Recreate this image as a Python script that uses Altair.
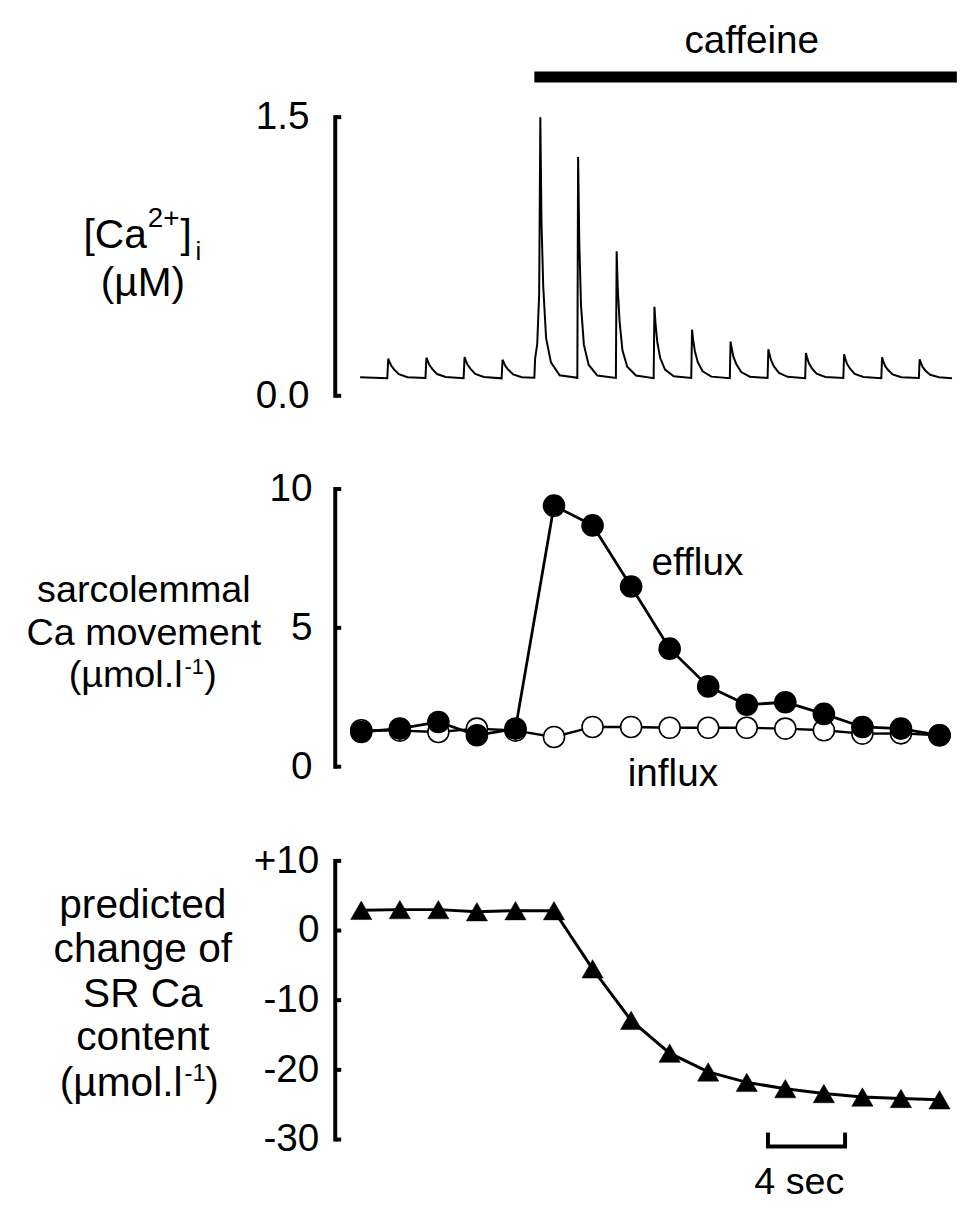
import altair as alt
import pandas as pd

FONT = "Liberation Sans"
FS = 39      # tick labels / annotations
FT = 41      # left titles
FT2 = 38     # middle-panel title (tighter lines)

# ---------------- data ----------------
# [Ca2+]i trace (time in s, value in uM)
trace_t = [
    1.29, 2.70, 2.75, 2.81, 2.90, 3.05, 3.30, 3.75,
    4.68, 4.73, 4.79, 4.88, 5.03, 5.28, 5.73,
    6.66, 6.71, 6.77, 6.86, 7.01, 7.26, 7.71,
    8.63, 8.68, 8.74, 8.83, 8.98, 9.23, 9.68,
    10.33, 10.37, 10.48, 10.58, 10.64, 10.70, 10.79, 10.94, 11.19, 11.64,
    12.56, 12.60, 12.66, 12.75, 12.90, 13.15, 13.60,
    14.56, 14.60, 14.66, 14.75, 14.90, 15.15, 15.60,
    16.52, 16.56, 16.62, 16.71, 16.86, 17.11, 17.56,
    18.47, 18.51, 18.57, 18.66, 18.81, 19.06, 19.51,
    20.47, 20.51, 20.57, 20.66, 20.81, 21.06, 21.51,
    22.43, 22.47, 22.53, 22.62, 22.77, 23.02, 23.47,
    24.38, 24.42, 24.48, 24.57, 24.72, 24.97, 25.42,
    26.36, 26.40, 26.46, 26.55, 26.70, 26.95, 27.40,
    28.33, 28.37, 28.43, 28.52, 28.67, 28.92, 29.37,
    30.28, 30.32, 30.38, 30.47, 30.62, 30.87, 31.32,
    32.0]
trace_ca = [
    0.100, 0.095, 0.200, 0.184, 0.163, 0.142, 0.116, 0.100,
    0.096, 0.205, 0.189, 0.167, 0.145, 0.117, 0.101,
    0.095, 0.208, 0.191, 0.168, 0.146, 0.118, 0.101,
    0.094, 0.194, 0.180, 0.160, 0.140, 0.115, 0.100,
    0.097, 0.200, 0.280, 0.550, 1.500, 0.940, 0.590, 0.310, 0.180, 0.110,
    0.097, 1.286, 0.833, 0.488, 0.274, 0.166, 0.109,
    0.096, 0.778, 0.573, 0.402, 0.245, 0.156, 0.109,
    0.095, 0.479, 0.383, 0.287, 0.203, 0.141, 0.105,
    0.096, 0.356, 0.299, 0.239, 0.181, 0.132, 0.103,
    0.095, 0.292, 0.253, 0.209, 0.170, 0.128, 0.103,
    0.096, 0.251, 0.223, 0.189, 0.157, 0.123, 0.102,
    0.095, 0.230, 0.206, 0.176, 0.149, 0.119, 0.101,
    0.096, 0.224, 0.201, 0.172, 0.147, 0.118, 0.101,
    0.095, 0.207, 0.187, 0.162, 0.140, 0.115, 0.100,
    0.096, 0.196, 0.178, 0.156, 0.135, 0.113, 0.100,
    0.094]

# per-beat values
beat_t = [1.35, 3.35, 5.35, 7.35, 9.35, 11.35, 13.35, 15.35,
          17.35, 19.35, 21.35, 23.35, 25.35, 27.35, 29.35, 31.35]
efflux = [1.25, 1.37, 1.61, 1.13, 1.37, 9.40, 8.69, 6.49,
          4.25, 2.89, 2.23, 2.32, 1.90, 1.43, 1.37, 1.13]
influx = [1.31, 1.30, 1.25, 1.37, 1.30, 1.07, 1.43, 1.43,
          1.40, 1.40, 1.40, 1.37, 1.31, 1.19, 1.20, 1.13]
sr_change = [2.9, 3.0, 3.0, 2.7, 2.85, 2.85, -5.5, -12.9,
             -17.6, -20.3, -21.8, -22.7, -23.4, -23.9, -24.1, -24.3]

ca_ticks = [0.0, 1.5]
ca_tick_labels = ["0.0", "1.5"]
flux_ticks = [0, 5, 10]
flux_tick_labels = ["0", "5", "10"]
sr_ticks = [-30, -20, -10, 0, 10]
sr_tick_labels = ["-30", "-20", "-10", "0", "+10"]

caffeine_on = [10.33, 32.25]
scalebar_t = [22.45, 26.45]

# ---------------- layout (plot-area pixels) ----------------
W, H = 622, 1200
XS = alt.Scale(domain=[0, 32], nice=False, zero=False)
S1 = alt.Scale(domain=[0, 1.5], range=[386, 105], nice=False, zero=False)
S2 = alt.Scale(domain=[0, 10], range=[760, 480], nice=False, zero=False)
S3 = alt.Scale(domain=[-30, 10], range=[1136, 855], nice=False, zero=False)


def X(f):
    return alt.X(f, type="quantitative", scale=XS, axis=None)


def Y(f, s):
    return alt.Y(f, type="quantitative", scale=s, axis=None)


def axis_layers(ticks, labels, sc, label_x):
    lo, hi = min(ticks), max(ticks)
    line = alt.Chart(pd.DataFrame({"lo": [lo], "hi": [hi]})).mark_rule(
        strokeWidth=4, color="black", strokeCap="square"
    ).encode(x=alt.value(0), y=Y("lo", sc), y2="hi")
    td = pd.DataFrame({"v": ticks, "lab": labels})
    tk = alt.Chart(td).mark_rule(strokeWidth=4, color="black").encode(
        x=alt.value(0), x2=alt.value(6), y=Y("v", sc)
    )
    lb = alt.Chart(td).mark_text(
        align="right", baseline="middle", font=FONT, fontSize=FS, color="black"
    ).encode(x=alt.value(label_x), y=Y("v", sc), text="lab:N")
    return [line, tk, lb]


def txt(s, px, py, size=FS, align="center"):
    # px, py in page coordinates -> plot coordinates
    return alt.Chart(pd.DataFrame({"_": [0]})).mark_text(
        text=s, align=align, baseline="alphabetic", font=FONT,
        fontSize=size, color="black"
    ).encode(x=alt.value(px - 338), y=alt.value(py - 8))


layers = []

# panel 1: calcium trace
layers += axis_layers(ca_ticks, ca_tick_labels, S1, -26)
layers.append(
    alt.Chart(pd.DataFrame({"t": trace_t, "ca": trace_ca})).mark_line(
        color="black", strokeWidth=2.0
    ).encode(x=X("t"), y=Y("ca", S1))
)
# caffeine bar
layers.append(
    alt.Chart(pd.DataFrame({"a": [caffeine_on[0]], "b": [caffeine_on[1]]})).mark_rule(
        color="black", strokeWidth=11
    ).encode(x=X("a"), x2="b", y=alt.value(64.5))
)

# panel 2: sarcolemmal fluxes
layers += axis_layers(flux_ticks, flux_tick_labels, S2, -23)
fdf = pd.DataFrame({"t": beat_t, "eff": efflux, "inf": influx})
layers.append(alt.Chart(fdf).mark_line(color="black", strokeWidth=2.4).encode(x=X("t"), y=Y("inf", S2)))
layers.append(alt.Chart(fdf).mark_point(
    shape="circle", size=450, fill="white", stroke="black", strokeWidth=1.6, opacity=1, fillOpacity=1
).encode(x=X("t"), y=Y("inf", S2)))
layers.append(alt.Chart(fdf).mark_line(color="black", strokeWidth=2.8).encode(x=X("t"), y=Y("eff", S2)))
layers.append(alt.Chart(fdf).mark_point(
    shape="circle", size=450, fill="black", stroke="black", strokeWidth=1.6, opacity=1, fillOpacity=1
).encode(x=X("t"), y=Y("eff", S2)))

# panel 3: SR content
layers += axis_layers(sr_ticks, sr_tick_labels, S3, -16)
sdf = pd.DataFrame({"t": beat_t, "sr": sr_change})
layers.append(alt.Chart(sdf).mark_line(color="black", strokeWidth=3.0).encode(x=X("t"), y=Y("sr", S3)))
layers.append(alt.Chart(sdf).mark_point(
    shape="triangle-up", size=460, fill="black", stroke="black", strokeWidth=0.5, opacity=1, fillOpacity=1
).encode(x=X("t"), y=Y("sr", S3)))

# scale bar (4 s)
sb = pd.DataFrame({"a": [scalebar_t[0]], "b": [scalebar_t[1]]})
layers.append(alt.Chart(sb).mark_rule(color="black", strokeWidth=4, strokeCap="square").encode(
    x=X("a"), x2="b", y=alt.value(1143)))
sbv = pd.DataFrame({"a": scalebar_t})
layers.append(alt.Chart(sbv).mark_rule(color="black", strokeWidth=4).encode(
    x=X("a"), y=alt.value(1129), y2=alt.value(1143)))

# texts
layers += [
    txt("caffeine", 758, 48),
    txt("efflux", 657, 575, align="left"),
    txt("influx", 633, 788, align="left"),
    txt("4 sec", 806, 1199, size=38),
    # panel 1 title
    txt("[Ca", 148, 245, size=FT, align="right"),
    txt("2+", 149, 224, size=28, align="left"),
    txt("]", 182, 245, size=FT, align="left"),
    txt("i", 197, 257, size=26, align="left"),
    txt("(µM)", 144, 293, size=FT),
    # panel 2 title
    txt("sarcolemmal", 145, 602, size=FT2),
    txt("Ca movement", 145, 645, size=FT2),
    txt("(µmol.l", 184, 688, size=FT2, align="right"),
    txt("-1", 186, 675, size=22, align="left"),
    txt(")", 206, 688, size=FT2, align="left"),
    # panel 3 title
    txt("predicted", 144, 921, size=FT),
    txt("change of", 144, 965, size=FT),
    txt("SR Ca", 144, 1010, size=FT),
    txt("content", 144, 1054, size=FT),
    txt("(µmol.l", 184, 1100, size=FT, align="right"),
    txt("-1", 186, 1085, size=24, align="left"),
    txt(")", 207, 1100, size=FT, align="left"),
]

chart = alt.layer(*layers).resolve_scale(y="independent").properties(
    width=W, height=H,
    autosize=alt.AutoSizeParams(type="none"),
    padding={"left": 330, "top": 0, "right": 5, "bottom": 0},
).configure_view(stroke=None)

chart.save("out.html", embed_options={"renderer": "svg", "actions": False})
